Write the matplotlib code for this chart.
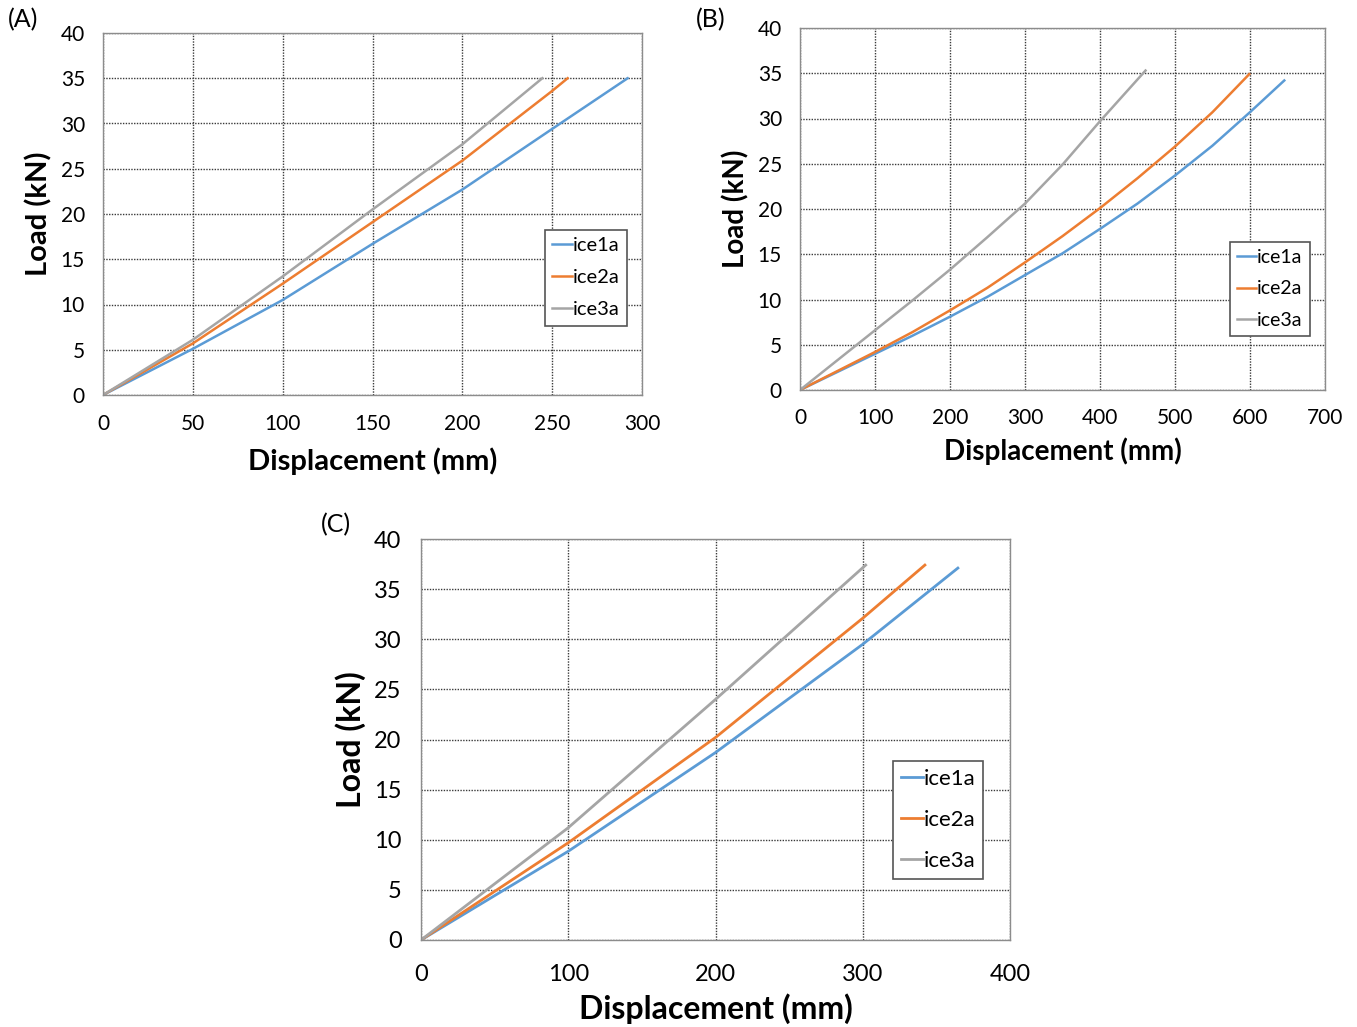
import numpy as np
import matplotlib
matplotlib.use("Agg")
import matplotlib.pyplot as plt

plt.rcParams.update({
    "font.family": ["Lato", "DejaVu Sans"],
    "axes.unicode_minus": False,
})

BLUE = "#5B9BD5"
ORANGE = "#ED7D31"
GRAY = "#A5A5A5"
GRID_DARK = "#3a3a3a"
SPINE = "#8c8c8c"

# === Data ===
# Panel A
a_ice1_x = [0, 50, 100, 150, 200, 250, 292]
a_ice1_y = [0, 5.1, 10.5, 16.7, 22.7, 29.4, 35.0]
a_ice2_x = [0, 50, 100, 150, 200, 250, 258.6]
a_ice2_y = [0, 5.7, 12.3, 19.1, 25.9, 33.6, 35.0]
a_ice3_x = [0, 50, 100, 150, 200, 244.5]
a_ice3_y = [0, 6.1, 13.1, 20.5, 27.7, 35.0]

# Panel B
b_ice1_x = [0, 50, 100, 150, 200, 250, 300, 350, 400, 450, 500, 550, 600, 645.7]
b_ice1_y = [0, 2.0, 4.0, 6.0, 8.1, 10.3, 12.7, 15.1, 17.8, 20.6, 23.7, 27.0, 30.7, 34.2]
b_ice2_x = [0, 50, 100, 150, 200, 250, 300, 350, 400, 450, 500, 550, 599]
b_ice2_y = [0, 2.1, 4.2, 6.4, 8.8, 11.3, 14.1, 17.0, 20.1, 23.4, 26.9, 30.7, 34.9]
b_ice3_x = [0, 50, 100, 150, 200, 250, 300, 350, 400, 460.7]
b_ice3_y = [0, 3.3, 6.6, 9.9, 13.3, 16.9, 20.6, 24.9, 29.7, 35.3]

# Panel C
c_ice1_x = [0, 100, 200, 300, 364.6]
c_ice1_y = [0, 8.85, 18.7, 29.5, 37.1]
c_ice2_x = [0, 100, 200, 300, 342.2]
c_ice2_y = [0, 9.7, 20.2, 32.1, 37.4]
c_ice3_x = [0, 100, 200, 302]
c_ice3_y = [0, 11.2, 24.0, 37.4]

labels = ["ice1a", "ice2a", "ice3a"]
colors = [BLUE, ORANGE, GRAY]

fig = plt.figure(figsize=(13.57, 10.27), dpi=100)

ax_a = fig.add_axes([103/1357, 1-395/1027, 539/1357, 362/1027])
ax_b = fig.add_axes([800/1357, 1-390/1027, 525/1357, 362/1027])
ax_c = fig.add_axes([421/1357, 1-940/1027, 589/1357, 401/1027])


def style_axes(ax, xmax, xstep, tick_fs, label_fs, xpad, ypad, xlpad, solid_h=False):
    ax.set_xlim(0, xmax)
    ax.set_ylim(0, 40)
    ax.set_xticks(np.arange(0, xmax + 1, xstep))
    ax.set_yticks(np.arange(0, 41, 5))
    ax.tick_params(axis="x", length=0, labelsize=tick_fs, pad=xpad)
    ax.tick_params(axis="y", length=0, labelsize=tick_fs, pad=ypad)
    for s in ax.spines.values():
        s.set_color(SPINE)
        s.set_linewidth(1.0)
    ax.xaxis.grid(True, color=GRID_DARK, linestyle=(0, (1, 1)), linewidth=1.0)
    if solid_h:
        ax.yaxis.grid(True, color="#a0a0a0", linestyle="-", linewidth=1.0)
    else:
        ax.yaxis.grid(True, color=GRID_DARK, linestyle=(0, (1, 1)), linewidth=1.0)
    ax.set_axisbelow(True)
    ax.set_xlabel("Displacement (mm)", fontsize=label_fs, fontweight="bold", labelpad=xlpad)
    ax.set_ylabel("Load (kN)", fontsize=label_fs, fontweight="bold", labelpad=6)


def add_legend(ax, anchor, fs, spacing):
    leg = ax.legend(loc="upper left", bbox_to_anchor=anchor, fontsize=fs,
                    handlelength=1.0, handletextpad=0.05, labelspacing=spacing,
                    borderpad=0.35, borderaxespad=0, fancybox=False, framealpha=1.0)
    leg.get_frame().set_edgecolor("#555555")
    leg.get_frame().set_linewidth(1.2)


# Panel A
for xs, ys, lab, col in zip([a_ice1_x, a_ice2_x, a_ice3_x],
                            [a_ice1_y, a_ice2_y, a_ice3_y], labels, colors):
    ax_a.plot(xs, ys, color=col, linewidth=1.8, label=lab)
style_axes(ax_a, 300, 50, 15, 21, 14, 13, 9)
add_legend(ax_a, (0.820, 0.456), 14.5, 0.75)

# Panel B
for xs, ys, lab, col in zip([b_ice1_x, b_ice2_x, b_ice3_x],
                            [b_ice1_y, b_ice2_y, b_ice3_y], labels, colors):
    ax_b.plot(xs, ys, color=col, linewidth=1.8, label=lab)
style_axes(ax_b, 700, 100, 15, 20, 13, 13, 7)
add_legend(ax_b, (0.819, 0.409), 14, 0.75)

# Panel C
for xs, ys, lab, col in zip([c_ice1_x, c_ice2_x, c_ice3_x],
                            [c_ice1_y, c_ice2_y, c_ice3_y], labels, colors):
    ax_c.plot(xs, ys, color=col, linewidth=2.0, label=lab)
style_axes(ax_c, 400, 100, 17, 23, 17, 14, 6)
add_legend(ax_c, (0.801, 0.446), 16, 0.95)

fig.text(8/1357, 1-20/1027, "(A)", fontsize=18, va="center", ha="left")
fig.text(696/1357, 1-20/1027, "(B)", fontsize=18, va="center", ha="left")
fig.text(321/1357, 1-525/1027, "(C)", fontsize=18, va="center", ha="left")

fig.savefig("out.png", dpi=100)
